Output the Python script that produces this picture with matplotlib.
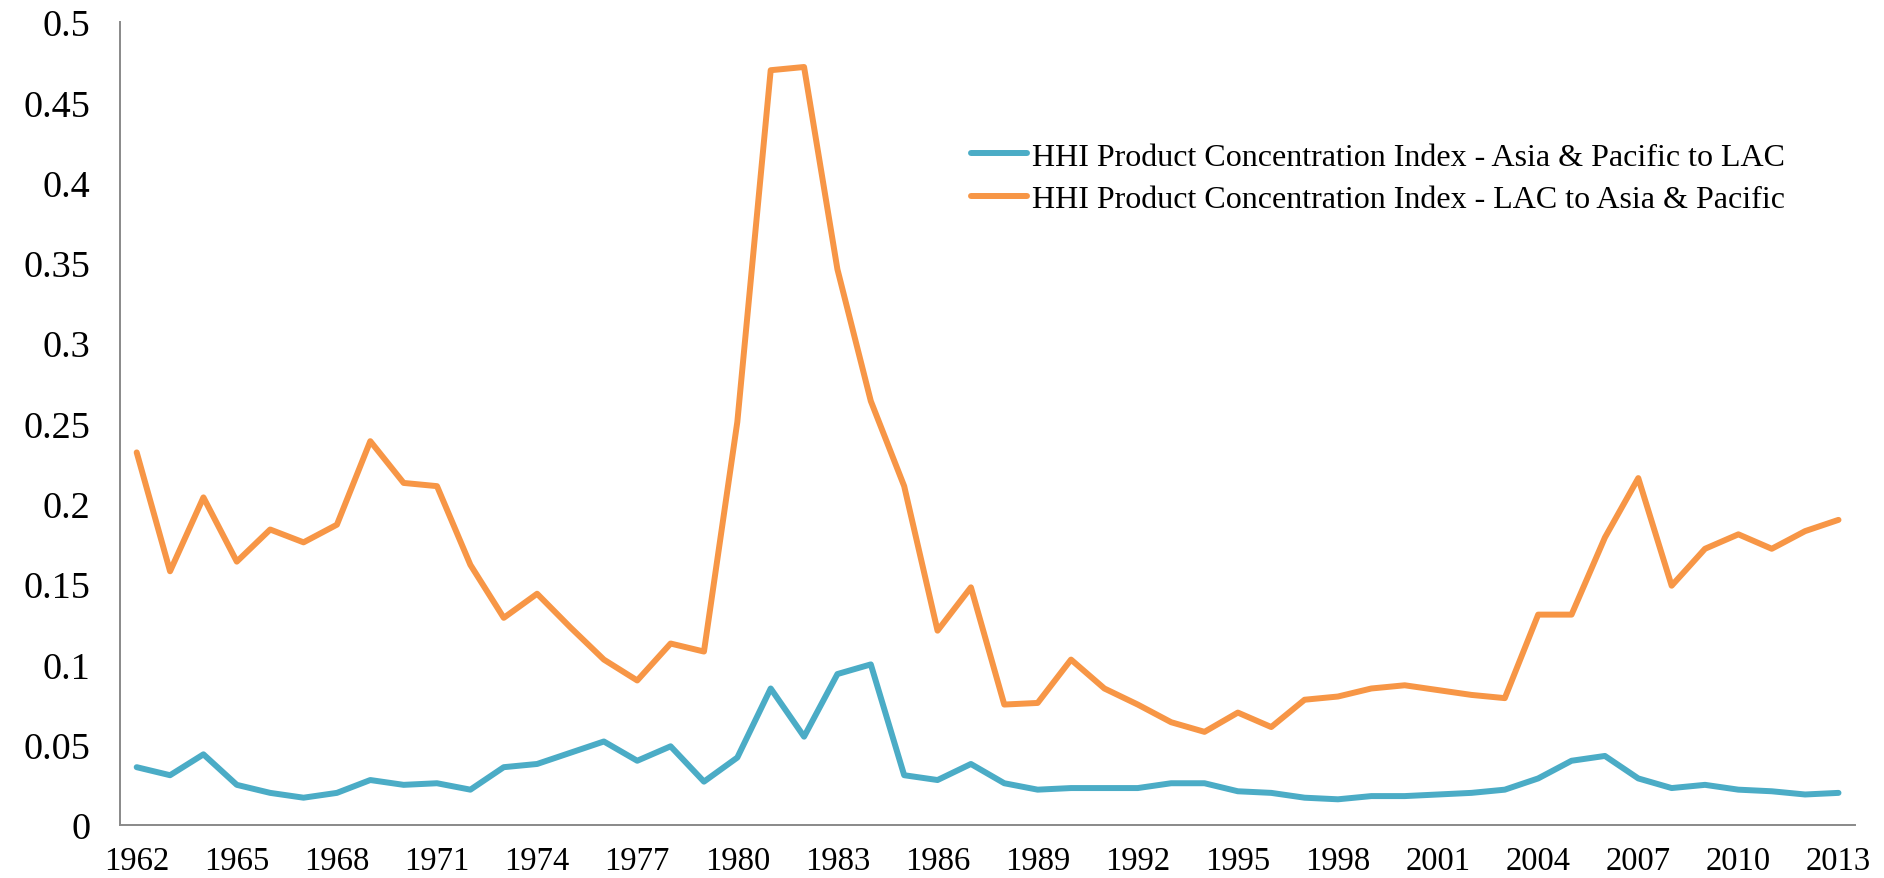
import matplotlib.pyplot as plt

years = list(range(1962, 2014))

asia_to_lac = [
    0.036, 0.031, 0.044, 0.025, 0.020, 0.017, 0.020, 0.028, 0.025, 0.026,
    0.022, 0.036, 0.038, 0.045, 0.052, 0.040, 0.049, 0.027, 0.042, 0.085,
    0.055, 0.094, 0.100, 0.031, 0.028, 0.038, 0.026, 0.022, 0.023, 0.023,
    0.023, 0.026, 0.026, 0.021, 0.020, 0.017, 0.016, 0.018, 0.018, 0.019,
    0.020, 0.022, 0.029, 0.040, 0.043, 0.029, 0.023, 0.025, 0.022, 0.021,
    0.019, 0.020,
]

lac_to_asia = [
    0.232, 0.158, 0.204, 0.164, 0.184, 0.176, 0.187, 0.239, 0.213, 0.211,
    0.162, 0.129, 0.144, 0.123, 0.103, 0.090, 0.113, 0.108, 0.251, 0.470,
    0.472, 0.346, 0.264, 0.211, 0.121, 0.148, 0.075, 0.076, 0.103, 0.085,
    0.075, 0.064, 0.058, 0.070, 0.061, 0.078, 0.080, 0.085, 0.087, 0.084,
    0.081, 0.079, 0.131, 0.131, 0.179, 0.216, 0.149, 0.172, 0.181, 0.172,
    0.183, 0.190,
]

xticks = list(range(1962, 2014, 3))
yticks = [0, 0.05, 0.1, 0.15, 0.2, 0.25, 0.3, 0.35, 0.4, 0.45, 0.5]
ytick_labels = ['0', '0.05', '0.1', '0.15', '0.2', '0.25', '0.3', '0.35', '0.4', '0.45', '0.5']

plt.rcParams['font.family'] = ['Liberation Serif', 'DejaVu Serif']

fig = plt.figure(figsize=(18.84, 8.79), dpi=100)
ax = fig.add_axes([0.0637, 0.0603, 0.921, 0.9135])

ax.plot(years, asia_to_lac, color='#4BACC6', lw=4.3, solid_joinstyle='round',
        solid_capstyle='round',
        label='HHI Product Concentration Index - Asia & Pacific to LAC')
ax.plot(years, lac_to_asia, color='#F79646', lw=4.3, solid_joinstyle='round',
        solid_capstyle='round',
        label='HHI Product Concentration Index - LAC to Asia & Pacific')

ax.set_xlim(1961.5, 2013.5)
ax.set_ylim(0, 0.5)
ax.set_xticks(xticks)
ax.set_xticklabels([str(y) for y in xticks], fontsize=23.5)
ax.set_yticks(yticks)
ax.set_yticklabels(ytick_labels, fontsize=27.5)
ax.tick_params(axis='x', length=0, pad=15)
ax.tick_params(axis='y', length=0, pad=21.5)

for s in ['top', 'right']:
    ax.spines[s].set_visible(False)
for s in ['left', 'bottom']:
    ax.spines[s].set_color('#898989')
    ax.spines[s].set_linewidth(1.4)

ax.legend(loc='upper left', bbox_to_anchor=(0.5154, 0.837), bbox_transform=fig.transFigure,
          frameon=False, fontsize=23, handlelength=1.75, handletextpad=0.15,
          labelspacing=0.42, borderaxespad=0, borderpad=0)

fig.savefig('out.png', dpi=100)
